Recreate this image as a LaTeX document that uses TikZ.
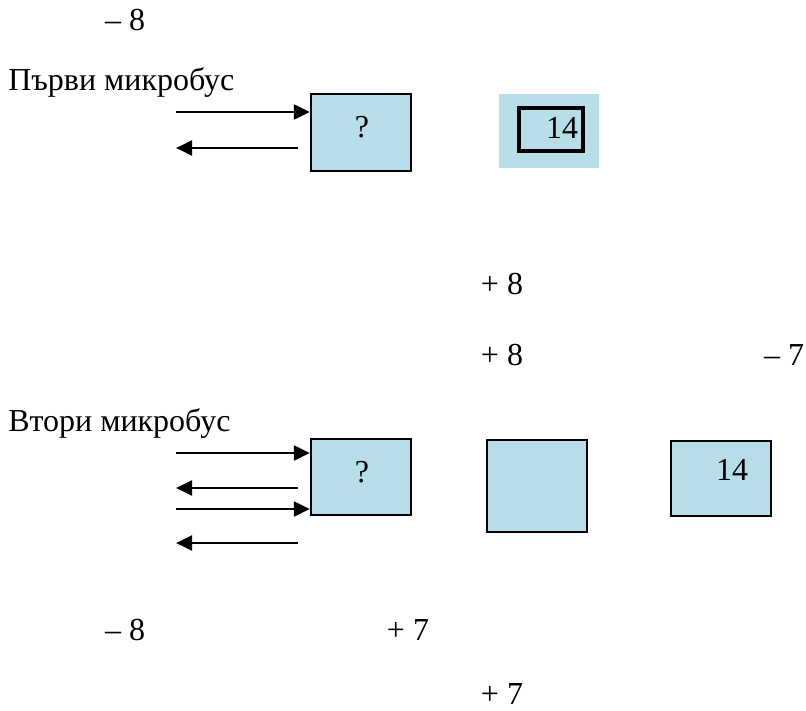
\documentclass[tikz,border=0pt]{standalone}
\usepackage{fontspec}
\setmainfont{Liberation Serif}
\usetikzlibrary{arrows.meta}
\definecolor{boxblue}{HTML}{B7DDE8}
\begin{document}
\begin{tikzpicture}[x=0.75pt,y=-0.75pt,
  lbl/.style={inner sep=0pt,font=\fontsize{24}{28}\selectfont},
  numlbl/.style={lbl,anchor=base},
  titlelbl/.style={lbl,anchor=base west},
  bluebox/.style={draw=black,line width=1.6pt,fill=boxblue,inner sep=0pt},
  flow/.style={line width=2.2pt,-{Triangle[length=12pt,width=11pt]}}]
\useasboundingbox (0,0) rectangle (806,710);

% first minibus
\node[numlbl] (m8a) at (125,31) {– 8};
\node[titlelbl] (t1) at (8,90) {Първи микробус};
\node[bluebox,minimum width=75pt,minimum height=57.75pt] (q1) at (361,132.5) {};
\node[lbl] (q1t) at (362,127) {?};
\node[fill=boxblue,inner sep=0pt,minimum width=75pt,minimum height=55.5pt] (o1) at (549,131) {};
\node[bluebox,line width=3pt,minimum width=48pt,minimum height=32.25pt] (i1) at (551,129.5) {};
\node[lbl] (i1t) at (562,128) {14};

\coordinate (a1) at (176,112);
\coordinate (b1s) at (298,148);
\coordinate (b1e) at (176,148);
\draw[flow] (a1) -- (a1 -| q1.west);
\draw[flow] (b1s) -- (b1e);

\node[numlbl] (p8a) at (502,294) {+ 8};
\node[numlbl] (p8b) at (502,365) {+ 8};
\node[numlbl] (m7) at (784,365) {– 7};

% second minibus
\node[titlelbl] (t2) at (8,431) {Втори микробус};
\node[bluebox,minimum width=75pt,minimum height=57pt] (q2) at (361,477) {};
\node[lbl] (q2t) at (362,472) {?};
\node[bluebox,minimum width=75pt,minimum height=69pt] (mid) at (537,486) {};
\node[bluebox,minimum width=75pt,minimum height=56.25pt] (r2) at (721,478.5) {};
\node[lbl] (r2t) at (732,470) {14};

\coordinate (a2) at (176,453);
\coordinate (b2s) at (298,488);
\coordinate (b2e) at (176,488);
\coordinate (c2) at (176,509);
\coordinate (d2s) at (298,543);
\coordinate (d2e) at (176,543);
\draw[flow] (a2) -- (a2 -| q2.west);
\draw[flow] (b2s) -- (b2e);
\draw[flow] (c2) -- (c2 -| q2.west);
\draw[flow] (d2s) -- (d2e);

\node[numlbl] (m8b) at (125,640) {– 8};
\node[numlbl] (p7a) at (408,640) {+ 7};
\node[numlbl] (p7b) at (502,704) {+ 7};
\end{tikzpicture}
\end{document}
